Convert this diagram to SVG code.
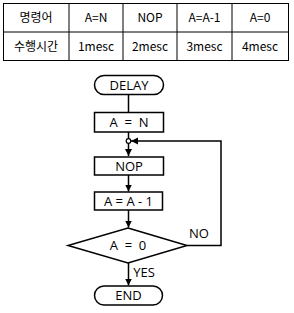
<svg xmlns="http://www.w3.org/2000/svg" width="294" height="313" viewBox="0 0 294 313">
<style>
.t{font-family:"Noto Sans CJK KR","DejaVu Sans",sans-serif;font-size:12px;fill:#000;text-anchor:middle}
.f{font-family:"Open Sans","Noto Sans",sans-serif;font-size:13px;fill:#000;text-anchor:middle;white-space:pre}
.b{fill:#fff;stroke:#000;stroke-width:1.5}
.l{fill:none;stroke:#000;stroke-width:1.5}
.g{fill:none;stroke:#000;stroke-width:1}
</style>
<defs>
<marker id="ah" markerWidth="8" markerHeight="8" refX="7" refY="4" orient="auto" markerUnits="userSpaceOnUse">
<path d="M0,0.5 L7,4 L0,7.5 Z" fill="#000"/>
</marker>
</defs>
<rect width="294" height="313" fill="#fff"/>
<g id="table">
<rect class="g" x="3.5" y="3.5" width="285" height="57"/>
<line class="g" x1="3.5" y1="32" x2="288.5" y2="32"/>
<line class="g" x1="69" y1="3.5" x2="69" y2="60.5"/>
<line class="g" x1="123" y1="3.5" x2="123" y2="60.5"/>
<line class="g" x1="177" y1="3.5" x2="177" y2="60.5"/>
<line class="g" x1="232" y1="3.5" x2="232" y2="60.5"/>
<text class="t" x="36" y="22">명령어</text>
<text class="t" x="96" y="22">A=N</text>
<text class="t" x="150" y="22">NOP</text>
<text class="t" x="204.5" y="22">A=A-1</text>
<text class="t" x="260" y="22">A=0</text>
<text class="t" x="36" y="51">수행시간</text>
<text class="t" x="96" y="51">1mesc</text>
<text class="t" x="150" y="51">2mesc</text>
<text class="t" x="204.5" y="51">3mesc</text>
<text class="t" x="260" y="51">4mesc</text>
</g>
<g id="connectors">
<line class="l" x1="128.5" y1="94.5" x2="128.5" y2="112"/>
<line class="l" x1="128.5" y1="132" x2="128.5" y2="139"/>
<line class="l" x1="128.5" y1="143.5" x2="128.5" y2="156" marker-end="url(#ah)"/>
<line class="l" x1="128.5" y1="175" x2="128.5" y2="191.5" marker-end="url(#ah)"/>
<line class="l" x1="128.5" y1="210" x2="128.5" y2="227.5" marker-end="url(#ah)"/>
<polyline class="l" points="187,245.5 221,245.5 221,141 131,141" marker-end="url(#ah)"/>
<circle cx="128.5" cy="141" r="2.3" fill="#fff" stroke="#000" stroke-width="1.2"/>
<line class="l" x1="128.5" y1="263" x2="128.5" y2="285.5" marker-end="url(#ah)"/>
<text class="f" x="199" y="238">NO</text>
<text class="f" x="144" y="277">YES</text>
</g>
<g id="delay">
<rect class="b" x="94.5" y="75.5" width="69" height="19" rx="9.5"/>
<text class="f" x="129" y="90">DELAY</text>
</g>
<g id="a_eq_n">
<rect class="b" x="94.5" y="112.5" width="69" height="19.5"/>
<text class="f" x="129" y="127" xml:space="preserve">A  =  N</text>
</g>
<g id="nop">
<rect class="b" x="94.5" y="157" width="69" height="18"/>
<text class="f" x="129" y="171">NOP</text>
</g>
<g id="a_dec">
<rect class="b" x="94.5" y="192" width="68" height="18"/>
<text class="f" x="128.5" y="206">A = A - 1</text>
</g>
<g id="decision">
<polygon class="b" points="128,228 187,245.5 128,263 68,245.5"/>
<text class="f" x="128" y="250" xml:space="preserve">A  =  0</text>
</g>
<g id="end">
<rect class="b" x="94.5" y="286" width="68" height="19" rx="9.5"/>
<text class="f" x="128.5" y="300">END</text>
</g>
</svg>
